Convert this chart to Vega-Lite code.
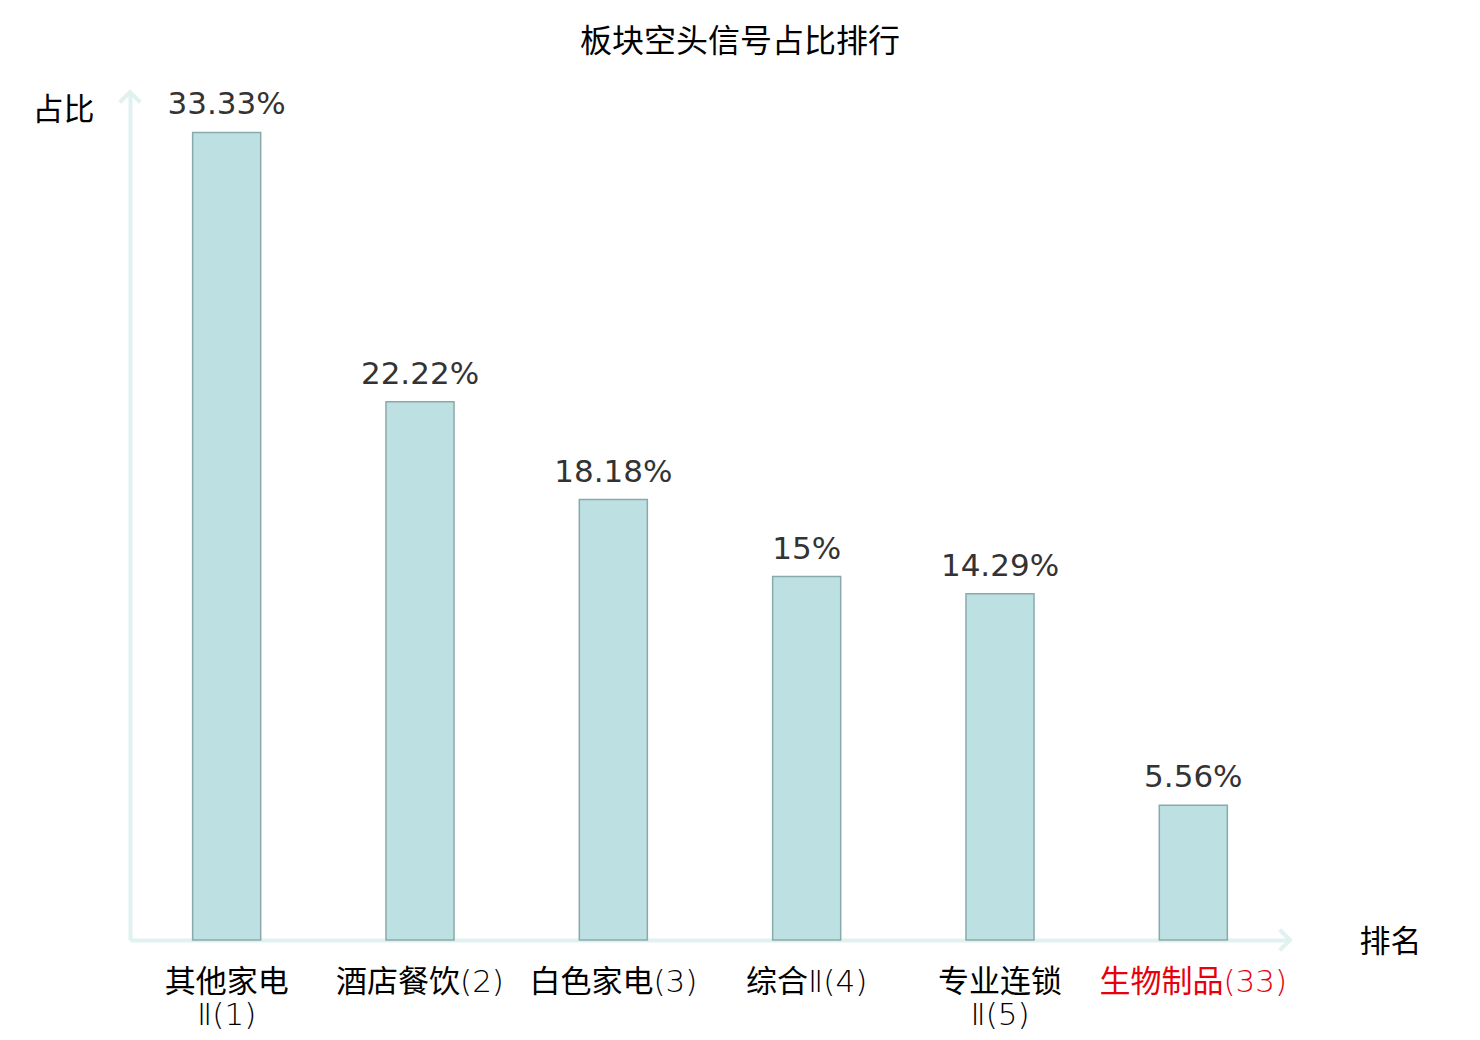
{
  "$schema": "https://vega.github.io/schema/vega-lite/v6.json",
  "autosize": "none",
  "padding": {"left": 130, "top": 92, "right": 190, "bottom": 100},
  "width": 1160,
  "height": 848,
  "background": "white",
  "config": {"view": {"stroke": null}},
  "title": {
    "text": "板块空头信号占比排行",
    "font": "Noto Sans CJK SC",
    "fontSize": 32,
    "fontWeight": "normal",
    "color": "#000000",
    "anchor": "middle",
    "dx": 30,
    "offset": 25
  },
  "datasets": {
    "sectors": [
      {"name": "其他家电|Ⅱ(1)", "pct": 33.33, "label": "33.33%"},
      {"name": "酒店餐饮(2)", "pct": 22.22, "label": "22.22%"},
      {"name": "白色家电(3)", "pct": 18.18, "label": "18.18%"},
      {"name": "综合Ⅱ(4)", "pct": 15, "label": "15%"},
      {"name": "专业连锁|Ⅱ(5)", "pct": 14.29, "label": "14.29%"},
      {"name": "生物制品(33)", "pct": 5.56, "label": "5.56%"}
    ],
    "arrows": [
      {"ax": 1, "ay": 0, "dir": "right"},
      {"ax": 0, "ay": 35, "dir": "up"}
    ]
  },
  "layer": [
    {
      "data": {"name": "sectors"},
      "layer": [
        {
          "mark": {"type": "bar", "fill": "#bde0e3", "stroke": "#8aa9ab", "strokeWidth": 1.5},
          "encoding": {
            "x": {
              "field": "name",
              "type": "nominal",
              "sort": null,
              "scale": {"paddingInner": 0.648, "paddingOuter": 0.324},
              "axis": {
                "title": "排名",
                "titleFont": "Noto Sans CJK SC",
                "titleFontSize": 31,
                "titleFontWeight": "normal",
                "titleColor": "#000000",
                "titleX": 1260,
                "titleY": 2,
                "titleAlign": "center",
                "titleBaseline": "middle",
                "titleAngle": 0,
                "domainColor": "#dff2ef",
                "domainWidth": 4,
                "ticks": false,
                "labelAngle": 0,
                "labelFont": "DejaVu Sans Light, Noto Sans CJK SC",
                "labelFontWeight": "normal",
                "labelFontSize": 31,
                "labelLineHeight": 33,
                "labelPadding": 27,
                "labelLimit": 400,
                "labelExpr": "split(datum.label, '|')",
                "labelColor": {
                  "condition": {"test": "datum.value == '生物制品(33)'", "value": "#e8000b"},
                  "value": "#000000"
                }
              }
            },
            "y": {
              "field": "pct",
              "type": "quantitative",
              "scale": {"domain": [0, 35], "nice": false},
              "axis": {
                "title": "占比",
                "titleFont": "Noto Sans CJK SC",
                "titleFontSize": 31,
                "titleFontWeight": "normal",
                "titleColor": "#000000",
                "titleAngle": 0,
                "titleX": -67,
                "titleY": 18,
                "titleAlign": "center",
                "titleBaseline": "middle",
                "domainColor": "#dff2ef",
                "domainWidth": 4,
                "ticks": false,
                "labels": false,
                "grid": false
              }
            }
          }
        },
        {
          "mark": {
            "type": "text",
            "font": "DejaVu Sans",
            "fontSize": 31,
            "color": "#333333",
            "baseline": "alphabetic",
            "align": "center",
            "dy": -18
          },
          "encoding": {
            "x": {"field": "name", "type": "nominal", "sort": null},
            "y": {"field": "pct", "type": "quantitative"},
            "text": {"field": "label", "type": "nominal"}
          }
        }
      ]
    },
    {
      "data": {"name": "arrows"},
      "mark": {"type": "point", "filled": false, "stroke": "#dff2ef", "strokeWidth": 4, "size": 420, "opacity": 1},
      "encoding": {
        "x": {"field": "ax", "type": "quantitative", "scale": {"domain": [0, 1], "nice": false, "zero": false}, "axis": null},
        "y": {"field": "ay", "type": "quantitative"},
        "shape": {
          "field": "dir",
          "type": "nominal",
          "scale": {"domain": ["right", "up"], "range": ["M-1,-1L0,0L-1,1", "M-1,1L0,0L1,1"]},
          "legend": null
        }
      }
    }
  ],
  "resolve": {"scale": {"x": "independent"}, "axis": {"x": "independent"}}
}
